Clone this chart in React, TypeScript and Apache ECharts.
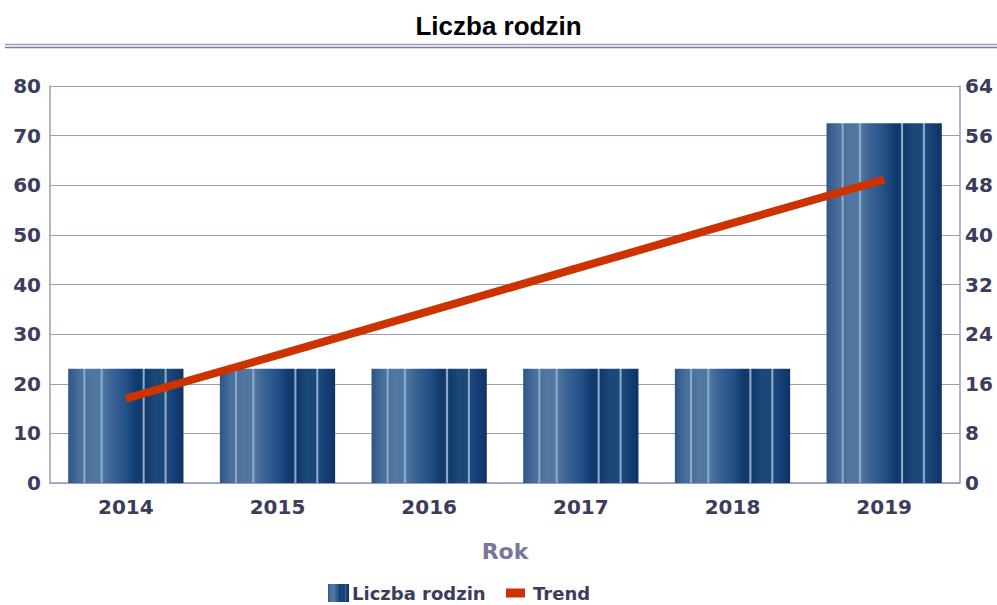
import React, { useEffect, useRef } from "react";
import * as echarts from "echarts";

const categories = ["2014", "2015", "2016", "2017", "2018", "2019"];
const familyCounts = [23, 23, 23, 23, 23, 72.5];
const trendValues = [13.6, 20.6, 27.7, 34.8, 41.9, 48.9];
const leftTicks = { min: 0, max: 80, interval: 10 };
const rightTicks = { min: 0, max: 64, interval: 8 };

const labelColor = "#3c3c5c";
const axisColor = "#9b9bbd";
const font = "'DejaVu Sans', Verdana, sans-serif";

function stripeGradient() {
  const base: [number, string][] = [
    [0, "#2d5585"],
    [0.1, "#4a709c"],
    [0.2, "#5077a2"],
    [0.35, "#406997"],
    [0.5, "#24508a"],
    [0.6, "#0f3a6b"],
    [0.75, "#1c4879"],
    [0.9, "#18437a"],
    [1, "#0c3365"],
  ];
  const stripes = [0.14, 0.29, 0.655, 0.845];
  const interp = (o: number) => {
    for (let i = 0; i < base.length - 1; i++) {
      if (o >= base[i][0] && o <= base[i + 1][0]) return base[i][1];
    }
    return base[base.length - 1][1];
  };
  const points: { offset: number; color: string }[] = base.map(([o, c]) => ({ offset: o, color: c }));
  stripes.forEach((s) => {
    const c = interp(s);
    points.push({ offset: s - 0.014, color: c });
    points.push({ offset: s - 0.004, color: "#8ea9cb" });
    points.push({ offset: s + 0.004, color: "#8ea9cb" });
    points.push({ offset: s + 0.014, color: c });
  });
  points.sort((a, b) => a.offset - b.offset);
  return new echarts.graphic.LinearGradient(0, 0, 1, 0, points);
}

export default function App() {
  const ref = useRef<HTMLDivElement>(null);
  useEffect(() => {
    if (!ref.current) return;
    const chart = echarts.init(ref.current, null, { renderer: "svg" });
    const barColor = stripeGradient();
    chart.setOption({
      animation: false,
      backgroundColor: "#ffffff",
      title: {
        text: "Liczba rodzin",
        left: "center",
        top: 8,
        textStyle: {
          fontFamily: "'Liberation Sans Narrow', 'Arial Narrow', 'Liberation Sans', sans-serif",
          fontWeight: "bold",
          fontSize: 26,
          color: "#000000",
        },
      },
      graphic: [
        { type: "line", shape: { x1: 5, y1: 44.5, x2: 997, y2: 44.5 }, style: { stroke: "#9a9abb", lineWidth: 1.5 } },
        { type: "line", shape: { x1: 5, y1: 47.5, x2: 997, y2: 47.5 }, style: { stroke: "#7c7ca0", lineWidth: 1.5 } },
      ],
      legend: [
        {
          data: [{ name: "Liczba rodzin", icon: "rect" }],
          left: 328,
          top: 584,
          padding: 0,
          itemWidth: 21,
          itemHeight: 18,
          itemGap: 0,
          textStyle: { fontFamily: font, fontWeight: "bold", fontSize: 18, color: labelColor, padding: [0, 0, 0, -2], lineHeight: 18 },
        },
        {
          data: [{ name: "Trend", icon: "rect" }],
          left: 506,
          top: 584,
          padding: 0,
          itemWidth: 19,
          itemHeight: 9,
          textStyle: { fontFamily: font, fontWeight: "bold", fontSize: 18, color: labelColor, padding: [0, 0, 0, 3], lineHeight: 18 },
        },
      ],
      grid: { left: 50, right: 37, top: 86, bottom: 122, containLabel: false },
      xAxis: {
        type: "category",
        data: categories,
        name: "Rok",
        nameLocation: "middle",
        nameGap: 57,
        nameTextStyle: { fontFamily: font, fontWeight: "bold", fontSize: 22, color: "#777799" },
        axisLine: { show: true, lineStyle: { color: axisColor, width: 1.5 } },
        axisTick: { show: false },
        axisLabel: { margin: 14, fontFamily: font, fontWeight: "bold", fontSize: 20, color: labelColor },
      },
      yAxis: [
        {
          type: "value",
          ...leftTicks,
          axisLine: { show: true, lineStyle: { color: axisColor, width: 1.5 } },
          axisTick: { show: false },
          splitLine: { show: true, lineStyle: { color: axisColor, width: 1 } },
          axisLabel: { margin: 9, fontFamily: font, fontWeight: "bold", fontSize: 20, color: labelColor },
        },
        {
          type: "value",
          ...rightTicks,
          position: "right",
          axisLine: { show: true, lineStyle: { color: axisColor, width: 1.5 } },
          axisTick: { show: false },
          splitLine: { show: false },
          axisLabel: { margin: 5, fontFamily: font, fontWeight: "bold", fontSize: 20, color: labelColor },
        },
      ],
      series: [
        {
          name: "Liczba rodzin",
          type: "bar",
          data: familyCounts,
          barWidth: "76%",
          yAxisIndex: 0,
          itemStyle: { color: barColor },
        },
        {
          name: "Trend",
          type: "line",
          data: trendValues,
          yAxisIndex: 1,
          symbol: "none",
          lineStyle: { color: "#cc3300", width: 8, cap: "butt" },
          itemStyle: { color: "#cc3300" },
          z: 5,
        },
      ],
    });
    return () => chart.dispose();
  }, []);
  return <div ref={ref} style={{ width: 997, height: 605, position: "absolute", left: 0, top: 0 }} />;
}
